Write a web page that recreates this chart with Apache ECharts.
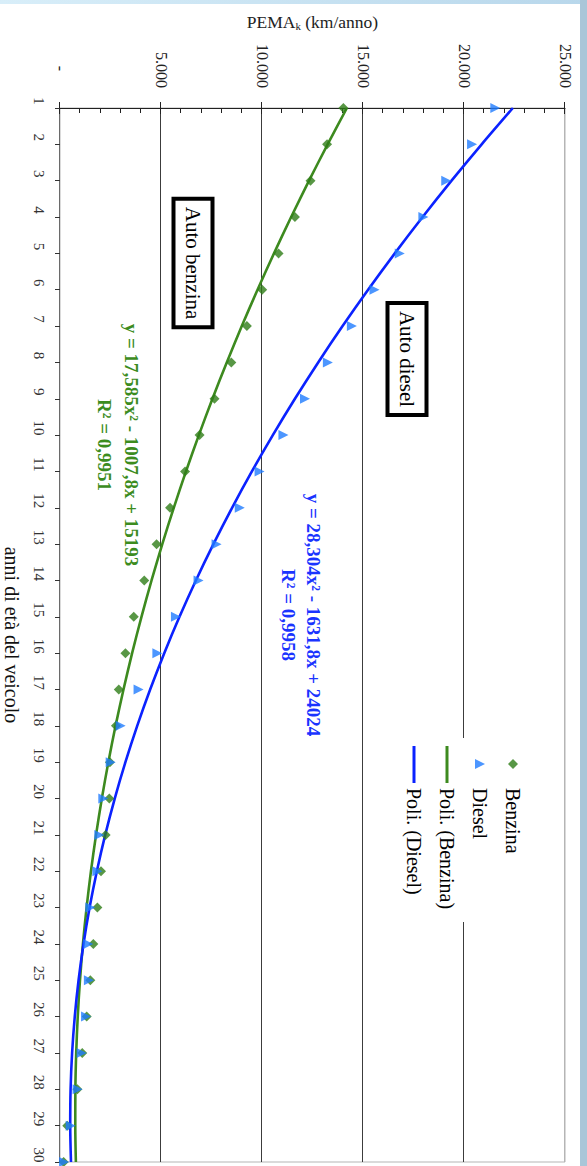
<!DOCTYPE html>
<html>
<head>
<meta charset="utf-8">
<script src="https://cdn.jsdelivr.net/npm/echarts@6/dist/echarts.min.js"></script>
<style>
html,body{margin:0;padding:0;background:#fff;width:587px;height:1166px;overflow:hidden;}
#topband{position:absolute;left:0;top:0;width:587px;height:4px;background:linear-gradient(to right,#d8eef9,#b8d7eb);}
#rightband{position:absolute;left:580px;top:0;width:7px;height:1166px;background:#a9c6d8;}
#wrap{position:absolute;left:0;top:0;width:1166px;height:587px;transform-origin:0 0;transform:translate(587px,0) rotate(90deg);}
</style>
</head>
<body>
<div id="wrap"></div>
<div id="topband"></div>
<div id="rightband"></div>
<script>
// ---- data ----
const years = ['1','2','3','4','5','6','7','8','9','10','11','12','13','14','15','16','17','18','19','20','21','22','23','24','25','26','27','28','29','30'];
const benzina = [14030,13220,12400,11630,10820,10010,9250,8480,7650,6910,6190,5450,4780,4170,3650,3240,2910,2770,2470,2440,2260,2030,1850,1650,1500,1320,1100,860,360,180];
const diesel = [21550,20400,19120,17990,16820,15570,14450,13260,12130,11060,9880,8900,7750,6860,5740,4820,3890,3000,2510,2145,1945,1850,1500,1400,1430,1290,1070,870,530,200];
const poliBenzina = [14203,13248,12328,11443,10594,9779,9000,8256,7547,6874,6235,5632,5064,4531,4033,3570,3143,2750,2393,2071,1784,1532,1316,1135,989,878,802,761,756,786];
const poliDiesel = [22420,20874,19383,17950,16573,15252,13988,12781,11630,10536,9499,8518,7594,6726,5915,5161,4463,3822,3238,2710,2238,1824,1465,1164,919,731,599,524,506,544];
const valueTickLabels = ['-','5.000','10.000','15.000','20.000','25.000'];
const seriesNames = ['Benzina','Diesel','Poli. (Benzina)','Poli. (Diesel)'];
const eqBenzina = 'y = 17,585x² - 1007,8x + 15193\nR² = 0,9951';
const eqDiesel = 'y = 28,304x² - 1631,8x + 24024\nR² = 0,9958';

const SERIF = '"Liberation Serif","Times New Roman",serif';
const chart = echarts.init(document.getElementById('wrap'), null, {renderer:'svg', width:1166, height:587});

const legendText = {fontFamily:SERIF,fontSize:20,color:'#000',lineHeight:20};

const option = {
  animation:false,
  backgroundColor:'#fff',
  textStyle:{fontFamily:SERIF},
  grid:{left:108,right:4,top:22,bottom:60,show:true,borderColor:'#b5b5b5',borderWidth:1,backgroundColor:'transparent',containLabel:false,outerBoundsMode:'none'},
  xAxis:{
    type:'category',data:years,boundaryGap:false,position:'bottom',
    axisLine:{show:true,lineStyle:{color:'#6a6a6a',width:1}},
    axisTick:{show:true,length:5,inside:false,interval:0,lineStyle:{color:'#333'}},
    axisLabel:{fontFamily:SERIF,fontSize:15,color:'#333',margin:14,interval:0,align:'center',padding:[0,14,0,0]},
    splitLine:{show:false},
    name:'anni di età del veicolo',nameLocation:'middle',nameGap:48,nameMoveOverlap:false,
    nameTextStyle:{fontFamily:SERIF,fontSize:20,color:'#111',verticalAlign:'middle'}
  },
  yAxis:[{
    type:'value',min:0,max:25000,interval:5000,position:'left',
    axisLine:{show:true,lineStyle:{color:'#222',width:1}},
    axisTick:{show:true,inside:true,length:6,lineStyle:{color:'#222'}},
    minorTick:{show:true,splitNumber:5,length:5,lineStyle:{color:'#222'}},
    splitLine:{show:true,lineStyle:{color:['#3c3c3c','#3c3c3c','#3c3c3c','#3c3c3c','#3c3c3c','#b5b5b5'],width:1}},
    axisLabel:{
      margin:20,fontFamily:SERIF,fontSize:16,color:'#222',
      formatter:function(v){const i=Math.round(v/5000);return i===0?'{z|'+valueTickLabels[0]+'}':valueTickLabels[i];},
      rich:{z:{fontFamily:SERIF,fontSize:16,color:'#222',padding:[0,17,0,0]}}
    },
    name:'PEMA{k|k} (km/anno)',nameLocation:'middle',nameGap:86,nameMoveOverlap:false,
    nameTextStyle:{fontFamily:SERIF,fontSize:17.5,color:'#222',verticalAlign:'middle',
      rich:{k:{fontFamily:SERIF,fontSize:11,color:'#222',verticalAlign:'bottom'}}}
  },{
    type:'value',min:0,max:25000,interval:5000,position:'left',
    axisLine:{show:false},
    axisTick:{show:true,inside:false,length:6,lineStyle:{color:'#222'}},
    axisLabel:{show:false},splitLine:{show:false}
  }],
  legend:[{
    orient:'vertical',left:759,top:64,padding:0,backgroundColor:'transparent',
    itemGap:13,itemWidth:10,itemHeight:10,
    textStyle:Object.assign({padding:[0,0,0,14]},legendText),
    data:[{name:seriesNames[0],icon:'diamond'},{name:seriesNames[1],icon:'triangle'}]
  },{
    orient:'vertical',left:746,top:130,padding:0,backgroundColor:'transparent',
    itemGap:13,itemWidth:37,itemHeight:3,
    textStyle:legendText,
    data:[{name:seriesNames[2],icon:'rect'},{name:seriesNames[3],icon:'rect'}]
  }],
  graphic:[
    {type:'rect',z:2,shape:{x:738,y:56,width:184,height:134},style:{fill:'#fff'}},
    {type:'text',x:263,y:394,z:10,style:{text:'Auto benzina',font:'21px '+SERIF,fill:'#000',align:'center',verticalAlign:'middle',backgroundColor:'#fff',borderColor:'#000',borderWidth:4,padding:[7,6,7,6]}},
    {type:'text',x:359,y:180,z:10,style:{text:'Auto diesel',font:'21px '+SERIF,fill:'#000',align:'center',verticalAlign:'middle',backgroundColor:'#fff',borderColor:'#000',borderWidth:4,padding:[7,6,7,6]}},
    {type:'text',x:445,y:469,z:10,style:{text:eqBenzina,font:'bold 19px '+SERIF,fill:'#3c8c1e',align:'center',verticalAlign:'middle',lineHeight:27}},
    {type:'text',x:615,y:286,z:10,style:{text:eqDiesel,font:'bold 19px '+SERIF,fill:'#1a34ff',align:'center',verticalAlign:'middle',lineHeight:25}}
  ],
  series:[
    {name:seriesNames[0],type:'scatter',data:benzina,symbol:'diamond',symbolSize:10,itemStyle:{color:'#2e7d17'},z:4},
    {name:seriesNames[1],type:'scatter',data:diesel,symbol:'triangle',symbolSize:10,itemStyle:{color:'#1f7cff'},z:5},
    {name:seriesNames[2],type:'line',data:poliBenzina,symbol:'none',smooth:0.3,lineStyle:{color:'#3d8a1f',width:2.6},itemStyle:{color:'#3d8a1f'},z:3},
    {name:seriesNames[3],type:'line',data:poliDiesel,symbol:'none',smooth:0.3,lineStyle:{color:'#0b22ff',width:2.6},itemStyle:{color:'#0b22ff'},z:3}
  ]
};
chart.setOption(option);
</script>
</body>
</html>
